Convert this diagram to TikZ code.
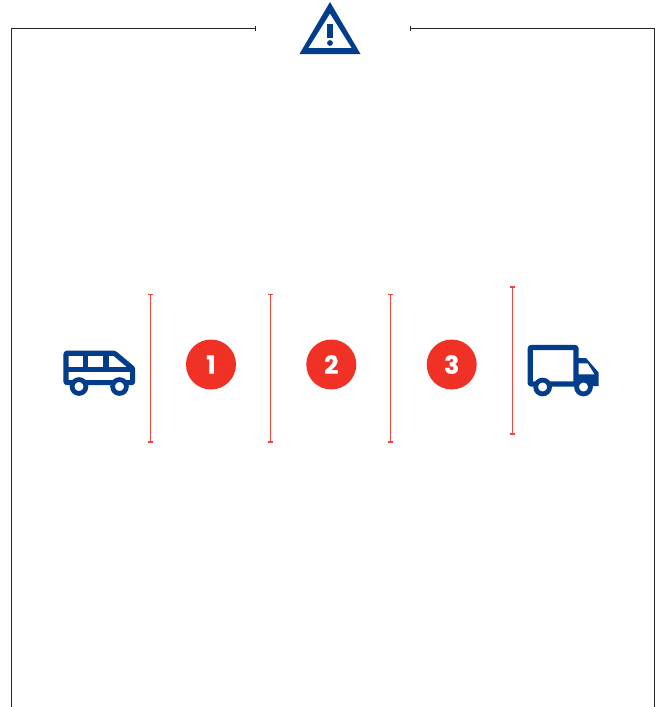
\documentclass[tikz,border=0pt]{standalone}
\usepackage{fontspec}
\newfontfamily\numfont{Poppins}[FakeBold=0.6]
\definecolor{navy}{HTML}{023D8B}
\definecolor{redc}{HTML}{F03226}
\definecolor{redl}{HTML}{F2453D}
\tikzset{
  frame/.style={draw=black!85,line width=0.9pt},
  fence/.style={draw=redl,line width=1.1pt},
  icon/.style={draw=navy,line width=5.2pt,line join=round,fill=none},
  wheel/.style={draw=navy,line width=4.8pt,fill=white,circle,inner sep=0pt,minimum size=13.8pt},
  badge/.style={circle,fill=redc,text=white,inner sep=0pt,minimum size=50pt,font=\numfont\bfseries\fontsize{25}{25}\selectfont}
}
\begin{document}
\begin{tikzpicture}[x=1pt,y=-1pt]
\useasboundingbox (0,0) rectangle (658,707);
\fill[white] (0,0) rectangle (658,707);
% frame
\coordinate (bl) at (11.5,707);
\coordinate (tl) at (11.5,28.5);
\coordinate (le) at (255,28.5);
\coordinate (re) at (410.5,28.5);
\coordinate (tr) at (654,28.5);
\coordinate (br) at (654,707);
\draw[frame,line cap=rect] (bl) -- (tl) -- (le);
\draw[frame] (re) -- (tr) -- (br);
\draw[frame] (255,26) -- (255,31);
\draw[frame] (410.5,26) -- (410.5,31);
% warning sign
\fill[navy,even odd rule] (330,2) -- (360.5,54) -- (299.5,54) -- cycle
  (330,13.5) -- (308.3,48) -- (351.7,48) -- cycle;
\fill[navy] (327.4,23.5) rectangle (332.6,37.5);
\fill[navy] (330,43) circle (2.9);
% fences
\foreach \n/\x/\a/\b in {a/150.5/294.5/442,b/270.4/294.5/442,c/390.5/294.5/442,d/512.5/287/434}{
  \coordinate (\n t) at (\x,\a);
  \coordinate (\n b) at (\x,\b);
  \draw[fence] (\n t) -- (\n b);
  \draw[fence] (\x-2.5,\a) -- (\x+2.5,\a);
  \draw[fence] (\x-2.5,\b) -- (\x+2.5,\b);
}
% badges
\node[badge] (n1) at (211,364.5) {\raisebox{-1.5pt}{1}};
\node[badge] (n2) at (331.3,364.5) {\raisebox{-1.5pt}{2}};
\node[badge] (n3) at (451.7,364.5) {\raisebox{-1.5pt}{3}};
% van
\draw[icon,rounded corners=0.8pt] (66,382.6) -- (66,353.3) -- (114.5,353.3) -- (132.6,368.5) -- (132.6,382.6) -- cycle;
\draw[icon] (66,369.8) -- (132.6,369.8);
\draw[icon] (85.5,353.3) -- (85.5,369.8);
\draw[icon] (106,353.3) -- (106,369.8);
\node[wheel] (vw1) at (79,386.5) {};
\node[wheel] (vw2) at (119.5,386.5) {};
% truck
\draw[icon,rounded corners=0.8pt] (530.2,384) -- (530.2,347.5) -- (576,347.5) -- (576,384) -- cycle;
\fill[navy] (576,358) -- (586,358) -- (598.6,372.5) -- (598.6,386) -- (576,386) -- cycle;
\fill[white] (578.6,363.4) -- (587.6,363.4) -- (594.4,374.3) -- (578.6,374.3) -- cycle;
\node[wheel] (tw1) at (542.6,387) {};
\node[wheel] (tw2) at (583.5,387) {};
\end{tikzpicture}
\end{document}
